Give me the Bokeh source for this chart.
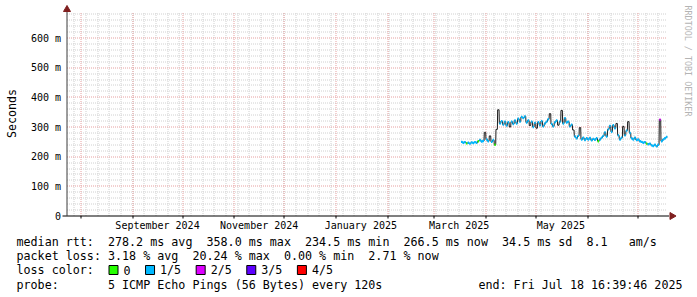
import math
import pandas as pd
from bokeh.plotting import figure
from bokeh.models import Range1d
from bokeh.core.properties import value
from bokeh.embed import file_html
from bokeh.resources import INLINE

# ---------------- data ----------------
graph_start = "2024-07-23 16:39:46"
graph_end = "2025-07-18 16:39:46"
first_day = "2025-03-17 12:00:00"

# daily median RTT (ms), Mar 17 .. Jul 18 2025
median_ms = [250, 247, 249, 245, 247, 244, 248, 246, 249, 247,
             252, 256, 251, 253, 282, 258, 252, 270, 250, 256,
             240, 292, 358, 312, 320, 308, 318, 305, 316, 300,
             318, 310, 322, 312, 328, 318, 334, 330, 336, 315,
             322, 305, 318, 300, 314, 296, 316, 306, 320, 302,
             312, 318, 326, 345, 310, 302, 316, 322, 306, 318,
             356, 312, 330, 315, 318, 302, 308, 290, 268, 262,
             270, 298, 258, 264, 256, 262, 258, 263, 255, 260,
             257, 262, 252, 258, 264, 270, 282, 268, 292, 304,
             284, 306, 296, 312, 272, 258, 264, 302, 272, 288,
             318, 280, 262, 258, 264, 256, 258, 252, 250, 247,
             249, 244, 242, 244, 238, 236, 240, 234.5, 240, 325,
             252, 258, 262, 266.5]

# loss level per day (pings lost of 5); -1 = no colour band (only dark median line)
loss_code = [1, 1, 1, 0, 1, 1, 1, 1, 1, 1,
             0, 1, 1, 1, -1, 1, 1, -1, 1, 1,
             0, -1, -1, 1, 1, 1, 1, 1, 1, -1,
             1, 1, 1, 1, 1, 1, 1, 1, 1, 1,
             1, -1, 1, 1, 1, -1, 1, 1, 1, 1,
             1, 1, 1, -1, 1, 1, 1, 1, -1, 1,
             -1, 1, 1, 1, 1, 1, 1, -1, 1, 1,
             1, -1, 1, 1, 1, 1, 1, 1, 1, 1,
             1, 1, 0, 1, 1, 1, 1, 1, 1, 1,
             1, 1, 1, -1, 1, 1, 1, -1, 1, 1,
             -1, 1, 1, 1, 1, 1, 1, 1, 1, 1,
             1, 0, 1, 1, 1, 1, 1, 1, 1, 2,
             1, 1, 1, 1]

loss_colors = ["#26ff00", "#00b8ff", "#dd00ff", "#5e00ff", "#ff0000"]
loss_labels = ["0", "1/5", "2/5", "3/5", "4/5"]

y_major = [0, 100, 200, 300, 400, 500, 600]
y_major_labels = ["0", "100 m", "200 m", "300 m", "400 m", "500 m", "600 m"]
y_minor = [20, 40, 60, 80, 120, 140, 160, 180, 220, 240, 260, 280, 320, 340, 360, 380,
           420, 440, 460, 480, 520, 540, 560, 580, 620, 640, 660, 680]
month_starts = ["2024-08-01", "2024-09-01", "2024-10-01", "2024-11-01", "2024-12-01",
                "2025-01-01", "2025-02-01", "2025-03-01", "2025-04-01", "2025-05-01",
                "2025-06-01", "2025-07-01"]
label_dates = ["2024-09-16", "2024-11-16", "2025-01-16", "2025-03-16", "2025-05-16"]
label_texts = ["September 2024", "November 2024", "January 2025", "March 2025", "May 2025"]
first_week = "2024-07-28"
last_week = "2025-07-13"
y_title = "Seconds"

legend_rtt = "median rtt:  278.2 ms avg  358.0 ms max  234.5 ms min  266.5 ms now  34.5 ms sd  8.1   am/s"
legend_loss = "packet loss: 3.18 % avg  20.24 % max  0.00 % min  2.71 % now"
legend_color = "loss color:"
legend_probe = "probe:       5 ICMP Echo Pings (56 Bytes) every 120s"
legend_end = "end: Fri Jul 18 16:39:46 2025"
watermark = "RRDTOOL / TOBI OETIKER"

# ---------------- layout ----------------
W, H = 697, 297
AX_L, AX_R, AX_T, AX_B = 66.5, 666.5, 12, 215.5   # rrd canvas edges (px centres)
YMAX = 686.0
MONO = "DejaVu Sans Mono"
GRAY, RED, ARROW = "#d0d0d0", "#e7a0a0", "#7f1f1f"
NB = "\u00a0"


def ms(ts):
    return pd.Timestamp(ts).value / 1e6


T0, T1 = ms(graph_start), ms(graph_end)
MSPX = (T1 - T0) / (AX_R - AX_L)
MPX = YMAX / (AX_B - AX_T)


def X(cx):
    return T0 + (cx - AX_L) * MSPX


def Y(cy):
    return (AX_B - cy) * MPX


def snap_x(t):
    px = AX_L + (t - T0) / MSPX
    return X(math.floor(px) + 0.5)


def snap_y(v):
    py = AX_B - v / MPX
    return Y(math.floor(py) + 0.5)


def nb(s):
    return s.replace(" ", NB)


p = figure(width=W, height=H, x_range=Range1d(X(0), X(W)), y_range=Range1d(Y(H), Y(0)),
           x_axis_type=None, y_axis_type=None, output_backend="svg", toolbar_location=None,
           min_border=0)
p.outline_line_color = None
p.background_fill_color = "white"
p.border_fill_color = "white"

# grid (dotted)
week_ms = [snap_x(ms(t)) for t in pd.date_range(first_week, last_week, freq="7D")]
month_ms = [snap_x(ms(t)) for t in month_starts]
ymin_s = [snap_y(v) for v in y_minor]
ymaj_s = [snap_y(v) for v in y_major[1:]]
p.segment(x0=week_ms, x1=week_ms, y0=[0] * len(week_ms), y1=[YMAX] * len(week_ms),
          line_color=GRAY, line_width=1, line_dash="1 1")
p.segment(x0=[T0] * len(ymin_s), x1=[T1] * len(ymin_s), y0=ymin_s, y1=ymin_s,
          line_color=GRAY, line_width=1, line_dash="1 1")
p.segment(x0=month_ms, x1=month_ms, y0=[0] * len(month_ms), y1=[YMAX] * len(month_ms),
          line_color=RED, line_width=1, line_dash="1 1")
p.segment(x0=[T0] * len(ymaj_s), x1=[T1] * len(ymaj_s), y0=ymaj_s, y1=ymaj_s,
          line_color=RED, line_width=1, line_dash="1 1")

# axes
p.segment(x0=[X(62)], x1=[X(AX_R + 2)], y0=[0], y1=[0], line_color="black", line_width=1)
p.segment(x0=[T0], x1=[T0], y0=[0], y1=[Y(AX_T - 3)], line_color="#3c3c3c", line_width=1)
p.segment(x0=month_ms, x1=month_ms, y0=[0] * len(month_ms), y1=[Y(AX_B + 2.5)] * len(month_ms),
          line_color="black", line_width=1)
p.scatter(x=[X(AX_R + 5)], y=[0], marker="triangle", angle=-math.pi / 2, size=7,
          fill_color=ARROW, line_color=ARROW)
p.scatter(x=[T0], y=[Y(AX_T - 3)], marker="triangle", size=7,
          fill_color=ARROW, line_color=ARROW)

p.text(x=[X(60.5)] * len(y_major), y=y_major, text=[nb(s) for s in y_major_labels],
       text_align="right", text_baseline="middle", text_font=value(MONO),
       text_font_size="10px", text_color="black")
p.text(x=[ms(t) for t in label_dates], y=[Y(224.5)] * len(label_dates), text=[nb(s) for s in label_texts],
       text_align="center", text_baseline="middle", text_font=value(MONO),
       text_font_size="10px", text_color="black")
p.text(x=[X(11)], y=[Y(113)], text=[y_title], angle=math.pi / 2, text_align="center",
       text_baseline="middle", text_font=value(MONO), text_font_size="11.6px",
       text_color="black")

# watermark
p.text(x=[X(687)], y=[Y(5)], text=[nb(watermark)], angle=-math.pi / 2, text_align="left",
       text_baseline="middle", text_font=value(MONO), text_font_size="8.4px",
       text_color="#b4b4b4")

# ---------------- series ----------------
dates = pd.date_range(first_day, periods=len(median_ms), freq="D")
half = pd.Timedelta(hours=10)
band = 4.0  # half thickness of the loss-colour band (ms)

step_x, step_y = [], []
for t, m in zip(dates, median_ms):
    step_x += [ms(t - half), ms(t + half)]
    step_y += [m, m]
p.line(step_x, step_y, line_color="#1c1c1c", line_width=1)

runs = []
cur = None
for t, m, c in zip(dates, median_ms, loss_code):
    if c < 0:
        cur = None
        continue
    if cur is None or cur["c"] != c:
        cur = {"c": c, "x": [], "y": []}
        runs.append(cur)
    cur["x"] += [ms(t - half), ms(t + half)]
    cur["y"] += [m, m]

xs = [r["x"] + r["x"][::-1] for r in runs]
ys = [[v + band for v in r["y"]] + [v - band for v in r["y"][::-1]] for r in runs]
cols = [loss_colors[r["c"]] for r in runs]
p.patches(xs, ys, fill_color=cols, line_color=None, fill_alpha=1.0)

# ---------------- legend ----------------
LEG = "11.7px"
CW = 7.04
rows = [241, 255.5, 269.5, 284]

p.text(x=[X(16)] * 4, y=[Y(r) for r in rows],
       text=[nb(legend_rtt), nb(legend_loss), nb(legend_color), nb(legend_probe)],
       text_align="left", text_baseline="middle", text_font=value(MONO),
       text_font_size=LEG, text_color="black")
p.text(x=[X(682)], y=[Y(rows[3])], text=[nb(legend_end)], text_align="right",
       text_baseline="middle", text_font=value(MONO), text_font_size=LEG,
       text_color="black")

box_l, lab_x = [], []
bx = 108.5
for lab in loss_labels:
    box_l.append(bx)
    lab_x.append(bx + 14.5)
    bx = bx + 14.5 + len(lab) * CW + 15
p.quad(left=[X(b) for b in box_l], right=[X(b + 9) for b in box_l],
       top=[Y(rows[2] - 4.5)] * 5, bottom=[Y(rows[2] + 4.5)] * 5,
       fill_color=loss_colors, line_color="black", line_width=1)
p.text(x=[X(v) for v in lab_x], y=[Y(rows[2])] * 5, text=loss_labels, text_align="left",
       text_baseline="middle", text_font=value(MONO), text_font_size=LEG,
       text_color="black")

open("out.html", "w").write(file_html(p, INLINE))
